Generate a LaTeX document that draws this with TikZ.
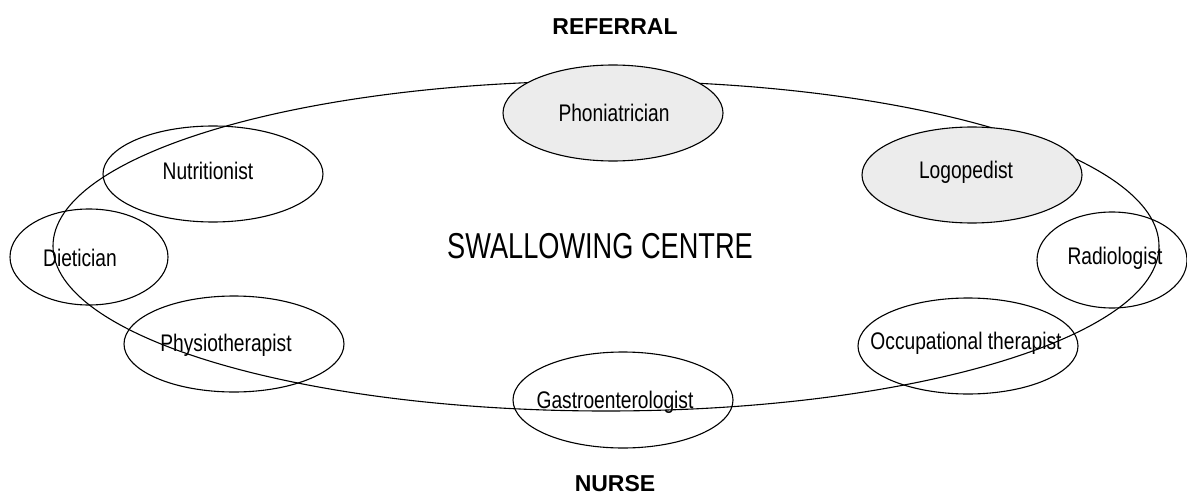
\documentclass[tikz,border=0pt]{standalone}
\usepackage{fontspec}
\setmainfont{Liberation Sans}
\newfontfamily\condfont[FakeStretch=0.8]{Liberation Sans}
\newfontfamily\titlefont[FakeStretch=0.755]{Liberation Sans}
\usetikzlibrary{shapes.geometric}
\definecolor{roleFill}{HTML}{ECECEC}
\tikzset{
  ring/.style={draw=black, line width=1.1pt, ellipse, inner sep=0pt},
  role/.style={ring, minimum width=220pt, minimum height=96pt},
  lead/.style={role, fill=roleFill},
  rolelabel/.style={inner sep=0pt, font=\condfont\fontsize{24}{26}\selectfont},
  heading/.style={inner sep=0pt, anchor=base, font=\bfseries\fontsize{23}{26}\selectfont}
}
\begin{document}
\begin{tikzpicture}[x=1pt,y=-1pt]
\useasboundingbox (0,0) rectangle (1187,495);
% main centre
\node[ring, minimum width=1106pt, minimum height=330pt] (centre) at (606,246) {};
% roles
\node[role] (nutr) at (213,174) {};
\node[role, minimum width=158pt] (diet) at (89,257) {};
\node[role] (phys) at (234,344) {};
\node[lead] (phon) at (613,113) {};
\node[lead] (logo) at (972,175) {};
\node[role, minimum width=150pt] (radi) at (1112,260) {};
\node[role] (occu) at (968,346) {};
\node[role] (gast) at (623,400) {};
% labels
\node[rolelabel] (tnutr) at (208,171) {Nutritionist};
\node[rolelabel] (tdiet) at (80,258) {Dietician};
\node[rolelabel] (tphys) at (226,345) {Physiotherapist};
\node[rolelabel] (tphon) at (614,113) {Phoniatrician};
\node[rolelabel] (tlogo) at (966,172) {Logopedist};
\node[rolelabel] (tradi) at (1115,258) {Radiologist};
\node[rolelabel] (toccu) at (966,343) {Occupational therapist};
\node[rolelabel] (tgast) at (615,402) {Gastroenterologist};
\node[inner sep=0pt, font=\titlefont\fontsize{36}{40}\selectfont] (tcentre) at (600,246) {SWALLOWING CENTRE};
\node[heading] (referral) at (615,35) {REFERRAL};
\node[heading] (nurse) at (615,491.5) {NURSE};
\end{tikzpicture}
\end{document}
